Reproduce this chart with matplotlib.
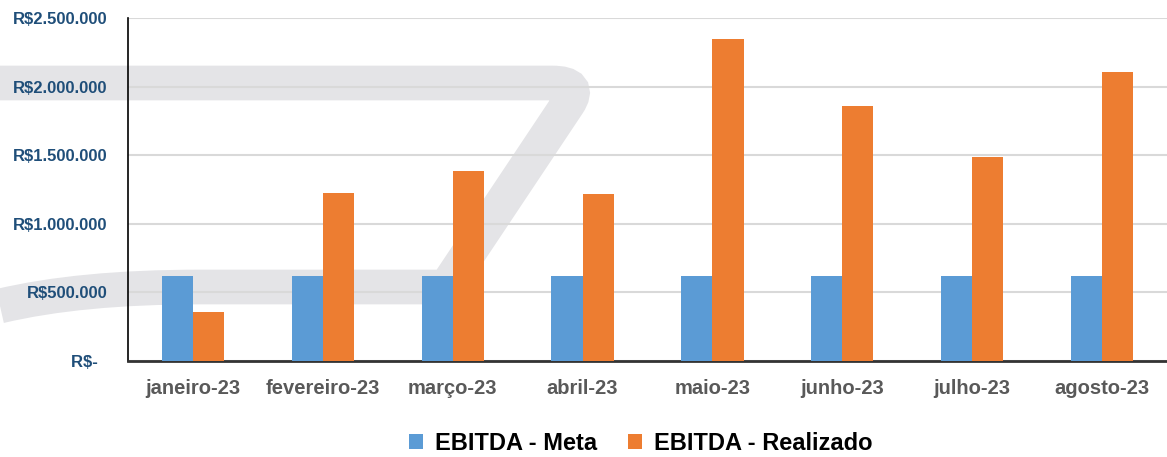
import matplotlib.pyplot as plt
import numpy as np
from matplotlib.path import Path
from matplotlib.patches import PathPatch
from matplotlib.ticker import FuncFormatter

# Data
meses = ['janeiro-23', 'fevereiro-23', 'março-23', 'abril-23',
         'maio-23', 'junho-23', 'julho-23', 'agosto-23']
meta = [620000, 620000, 620000, 620000, 620000, 620000, 620000, 620000]
realizado = [358000, 1228000, 1385000, 1220000, 2350000, 1858000, 1490000, 2105000]

plt.rcParams['font.family'] = ['Liberation Sans', 'DejaVu Sans']

fig = plt.figure(figsize=(11.67, 4.57), dpi=100)

# background watermark (light gray band), in pixel coords
bg = fig.add_axes([0, 0, 1, 1], zorder=0)
bg.set_xlim(0, 1167)
bg.set_ylim(457, 0)
bg.axis('off')
verts = [(0, 83), (552, 83), (582, 83), (568, 104), (446, 287),
         (200, 287), (80, 287), (0, 306)]
codes = [Path.MOVETO, Path.LINETO, Path.CURVE3, Path.CURVE3, Path.LINETO,
         Path.LINETO, Path.CURVE3, Path.CURVE3]
bg.add_patch(PathPatch(Path(verts, codes), fill=False, edgecolor='#e4e4e7',
                       linewidth=25, joinstyle='miter', capstyle='butt'))

ax = fig.add_axes([128 / 1167, 1 - 361 / 457, 1 - 128 / 1167, (361 - 18) / 457], zorder=1)
ax.patch.set_alpha(0)

x = np.arange(len(meses))
w = 0.24
ax.bar(x - w / 2, meta, w, color='#5B9BD5', label='EBITDA - Meta', zorder=3)
ax.bar(x + w / 2, realizado, w, color='#ED7D31', label='EBITDA - Realizado', zorder=3)

ax.set_xlim(-0.5, len(meses) - 0.5)
ax.set_ylim(0, 2500000)
ax.set_yticks(np.arange(0, 2500001, 500000))


def fmt(v, pos):
    if v == 0:
        return 'R$-  '
    return 'R$' + f'{int(v):,}'.replace(',', '.')


ax.yaxis.set_major_formatter(FuncFormatter(fmt))
ax.set_xticks(x)
ax.set_xticklabels(meses)

ax.grid(axis='y', color='#d9d9d9', linewidth=1.5, zorder=1)
ax.set_axisbelow(True)
for s in ['top', 'right']:
    ax.spines[s].set_visible(False)
ax.spines['left'].set_color('black')
ax.spines['left'].set_linewidth(1.2)
ax.spines['bottom'].set_color('#333333')
ax.spines['bottom'].set_linewidth(2)

ax.tick_params(axis='y', length=0, pad=15, labelsize=12, labelcolor='#1F4E79')
ax.tick_params(axis='x', length=0, pad=13, labelsize=14.5, labelcolor='#595959')
for lab in ax.get_yticklabels():
    lab.set_fontweight('bold')
for lab in ax.get_xticklabels():
    lab.set_fontweight('bold')

fig.legend(loc='center', bbox_to_anchor=(0.549, 1 - 443 / 457), ncol=2,
           frameon=False, prop={'size': 17, 'weight': 'bold'},
           handlelength=0.6, handleheight=0.6, handletextpad=0.5, columnspacing=1.3)

fig.savefig('out.png', dpi=100)
